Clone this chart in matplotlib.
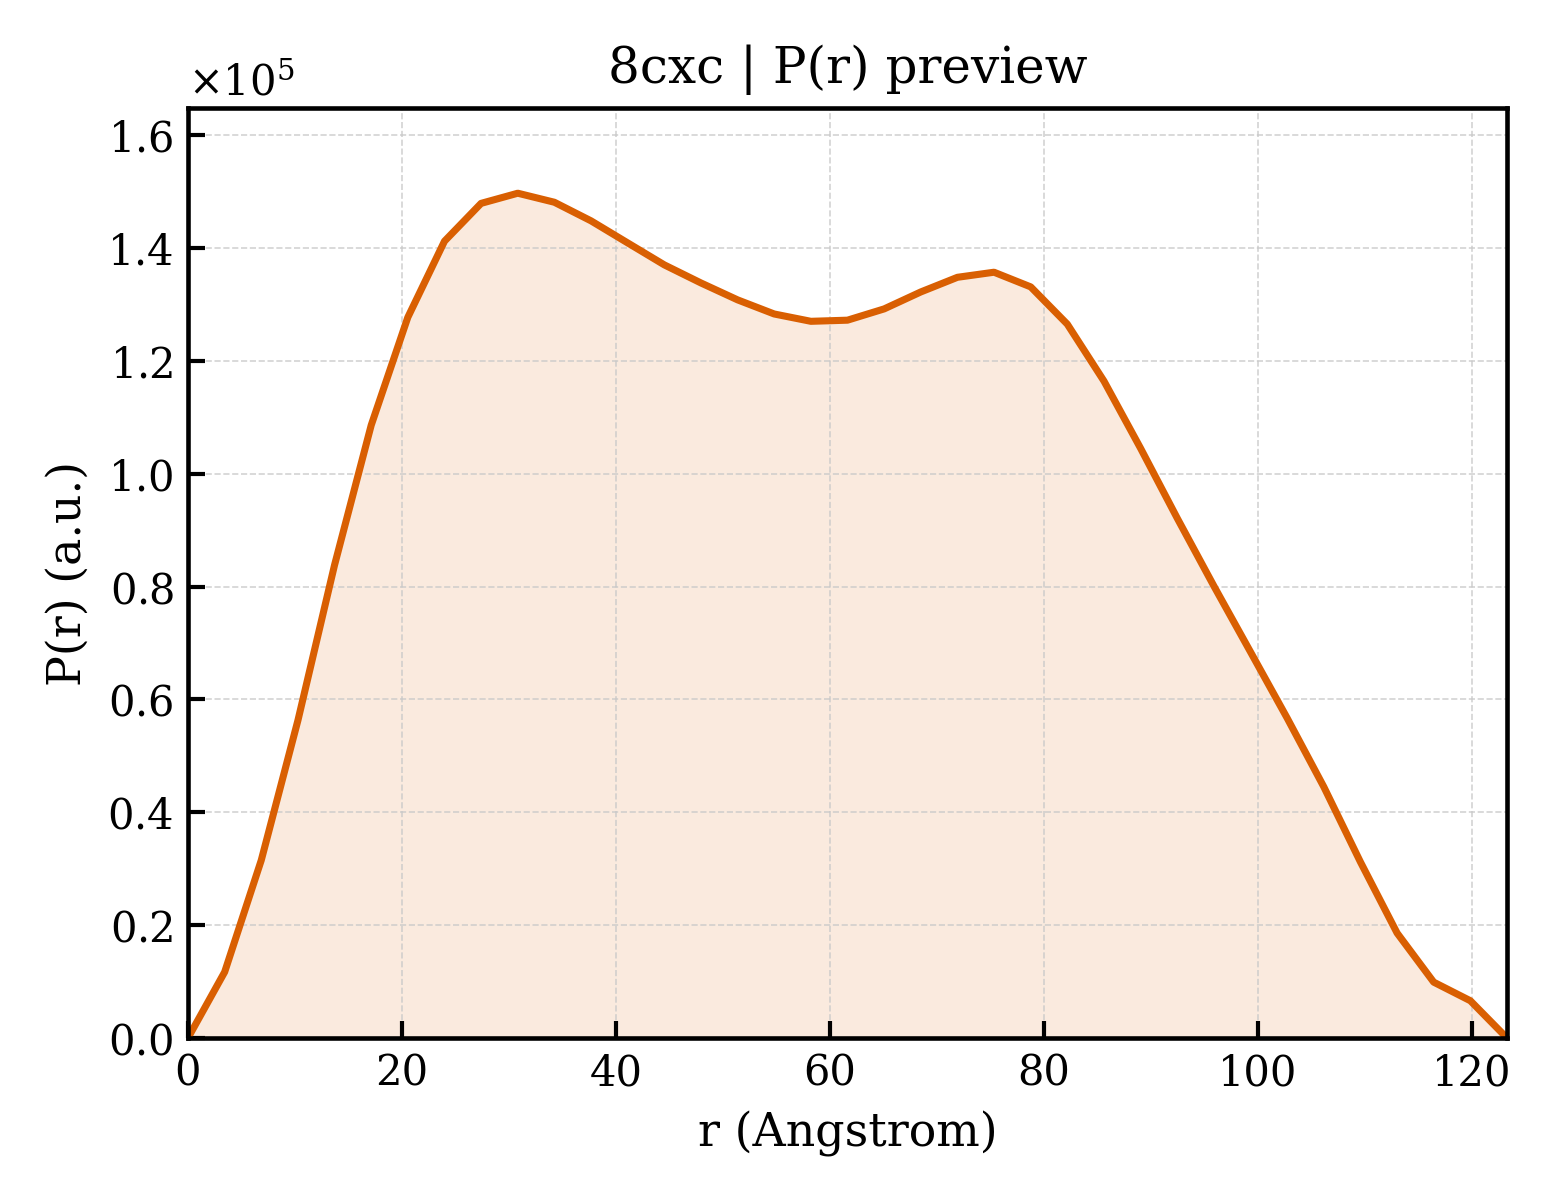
"""P(r) preview for 8cxc, single panel with filled area under the curve."""

import matplotlib
matplotlib.use("Agg")
import matplotlib.pyplot as plt
from matplotlib.ticker import ScalarFormatter
import numpy as np

LINE = "#d95f02"
GRID = "#c8c8c8"
FIGURE_DPI = 300

TITLE = "8cxc | P(r) preview"
X_LABEL = "r (Angstrom)"
Y_LABEL = "P(r) (a.u.)"

# distance grid (Angstrom)
r_vals = [
    0.0, 3.43, 6.85, 10.28, 13.70, 17.13, 20.55, 23.98, 27.40, 30.83,
    34.25, 37.68, 41.10, 44.53, 47.95, 51.38, 54.80, 58.23, 61.65, 65.08,
    68.50, 71.93, 75.35, 78.78, 82.20, 85.63, 89.05, 92.48, 95.90, 99.33,
    102.75, 106.18, 109.60, 113.03, 116.45, 119.88, 123.30,
]

# P(r), arbitrary units
pr_vals = [
    0, 11700, 31500, 56300, 83800, 108600, 127700, 141200, 147900, 149700,
    148100, 144800, 140900, 137000, 133800, 130800, 128300, 127000, 127200, 129200,
    132200, 134800, 135700, 133100, 126500, 116400, 104500, 92100, 80100, 68400,
    56700, 44500, 31200, 18600, 9900, 6600, 0,
]

plt.rcParams["font.family"] = "DejaVu Serif"
plt.rcParams["mathtext.fontset"] = "dejavuserif"

r = np.array(r_vals)
pr = np.array(pr_vals, dtype=float)

fig = plt.figure(figsize=(5.2, 4.0), dpi=FIGURE_DPI)
ax = fig.add_axes([0.1205, 0.135, 0.8455, 0.775])

ax.fill_between(r, 0, pr, color=LINE, alpha=0.13, linewidth=0)
ax.plot(r, pr, color=LINE, linewidth=1.7)

ax.set_xlim(0, r.max())
ax.set_ylim(0, 1.648e5)
ax.set_yticks(np.arange(0, 1.61e5, 0.2e5))
ax.set_xticks([0, 20, 40, 60, 80, 100, 120])

fmt = ScalarFormatter(useMathText=True)
fmt.set_powerlimits((0, 0))
ax.yaxis.set_major_formatter(fmt)
ax.yaxis.get_offset_text().set_fontsize(10)

ax.set_title(TITLE, fontsize=12, pad=6)
ax.set_xlabel(X_LABEL, fontsize=11)
ax.set_ylabel(Y_LABEL, fontsize=11)

ax.tick_params(axis="both", direction="in", length=4, width=1.0, labelsize=10)
for spine in ax.spines.values():
    spine.set_linewidth(1.1)
ax.grid(True, color=GRID, linestyle="--", linewidth=0.4, alpha=0.8)

fig.savefig("out.png", dpi=FIGURE_DPI, facecolor="white")
plt.close(fig)
